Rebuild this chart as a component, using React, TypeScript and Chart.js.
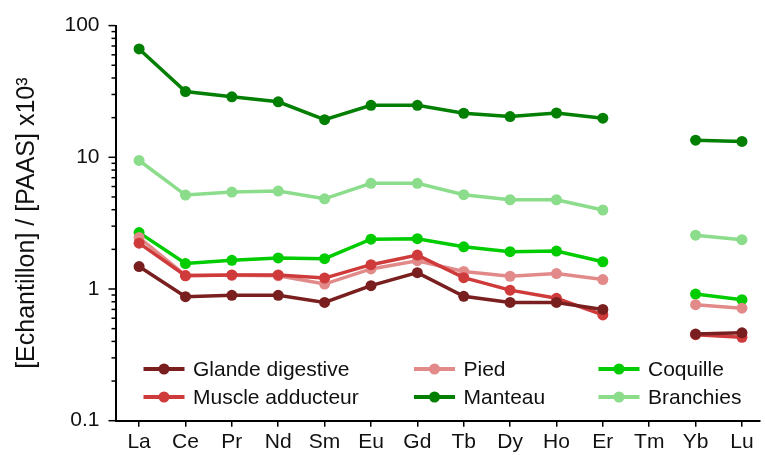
import React, { useEffect, useRef } from "react";
import { Chart, registerables } from "chart.js";

Chart.register(...registerables);

const categories = ["La", "Ce", "Pr", "Nd", "Sm", "Eu", "Gd", "Tb", "Dy", "Ho", "Er", "Tm", "Yb", "Lu"];

const glande = [1.48, 0.875, 0.895, 0.895, 0.79, 1.06, 1.33, 0.88, 0.79, 0.79, 0.7, null, 0.455, 0.465];
const muscle = [2.23, 1.26, 1.28, 1.28, 1.21, 1.53, 1.81, 1.22, 0.98, 0.85, 0.635, null, 0.45, 0.43];
const pied = [2.46, 1.27, 1.27, 1.26, 1.09, 1.42, 1.64, 1.36, 1.25, 1.31, 1.18, null, 0.76, 0.715];
const coquille = [2.68, 1.56, 1.65, 1.72, 1.7, 2.39, 2.41, 2.09, 1.92, 1.94, 1.61, null, 0.915, 0.83];
const manteau = [66.5, 31.6, 28.8, 26.4, 19.3, 24.8, 24.8, 21.6, 20.4, 21.7, 19.8, null, 13.5, 13.2];
const branchies = [9.46, 5.17, 5.44, 5.54, 4.84, 6.34, 6.34, 5.2, 4.76, 4.76, 3.98, null, 2.56, 2.37];

const seriesNames = ["Glande digestive", "Muscle adducteur", "Pied", "Manteau", "Coquille", "Branchies"];
const seriesValues = [glande, muscle, pied, manteau, coquille, branchies];
const seriesColors = ["#7a1f1f", "#cf3a3a", "#e28a8a", "#037f03", "#00cc00", "#8bdc8b"];

const yTickValues = [0.1, 1, 10, 100];
const yTickLabels = ["0.1", "1", "10", "100"];
const yMinorSignificands = [2, 3, 4, 5, 6, 7, 8, 9];
const yTitle = "[Echantillon] / [PAAS] x10\u00B3";

const FONT = "'Liberation Sans', Arial, sans-serif";
const TEXT = "#111111";
const SHIFT = 3;

const minorTicksPlugin = {
  id: "minorTicks",
  afterDraw(chart: any) {
    const y = chart.scales.y;
    const ctx = chart.ctx;
    const left = chart.chartArea.left;
    ctx.save();
    ctx.strokeStyle = "#000";
    ctx.lineWidth = 1.5;
    for (const v of yTickValues) {
      const py = y.getPixelForValue(v);
      ctx.beginPath();
      ctx.moveTo(left - 7, py);
      ctx.lineTo(left, py);
      ctx.stroke();
      if (v < 100) {
        for (const s of yMinorSignificands) {
          const pm = y.getPixelForValue(v * s);
          ctx.beginPath();
          ctx.moveTo(left - 4, pm);
          ctx.lineTo(left, pm);
          ctx.stroke();
        }
      }
    }
    ctx.restore();
  },
};

const legendPlugin = {
  id: "customLegend",
  afterDraw(chart: any) {
    const ctx = chart.ctx;
    const colX = [164, 434.5, 619];
    const rowY = [369 + SHIFT, 397 + SHIFT];
    ctx.save();
    chart.data.datasets.forEach((ds: any, i: number) => {
      const col = Math.floor(i / 2);
      const row = i % 2;
      const mx = colX[col];
      const my = rowY[row];
      ctx.strokeStyle = ds.borderColor;
      ctx.lineWidth = 4;
      ctx.beginPath();
      ctx.moveTo(mx - 20.5, my);
      ctx.lineTo(mx + 20.5, my);
      ctx.stroke();
      ctx.fillStyle = ds.borderColor;
      ctx.beginPath();
      ctx.arc(mx, my, 5.5, 0, Math.PI * 2);
      ctx.fill();
      ctx.fillStyle = TEXT;
      ctx.font = `21px ${FONT}`;
      ctx.textBaseline = "middle";
      ctx.textAlign = "left";
      ctx.fillText(ds.label, mx + 29, my + 1);
    });
    ctx.restore();
  },
};

export default function App() {
  const canvasRef = useRef<HTMLCanvasElement | null>(null);

  useEffect(() => {
    if (!canvasRef.current) return;
    const datasets = seriesNames.map((name, k) => ({
      label: name,
      data: categories.map((_, i) => ({ x: i, y: seriesValues[k][i] })),
      borderColor: seriesColors[k],
      backgroundColor: seriesColors[k],
      borderWidth: 3.5,
      pointRadius: 5.5,
      pointBorderWidth: 0,
      pointHoverRadius: 5.5,
      spanGaps: false,
      tension: 0,
    }));

    const chart = new Chart(canvasRef.current, {
      type: "line",
      data: { datasets },
      plugins: [minorTicksPlugin, legendPlugin],
      options: {
        animation: false,
        responsive: false,
        devicePixelRatio: 1,
        layout: { padding: { top: 12, left: 0, right: 0, bottom: 0 } },
        plugins: {
          legend: { display: false },
          tooltip: { enabled: false },
          title: { display: false },
        },
        scales: {
          x: {
            type: "linear",
            min: -0.509,
            max: 13.378,
            afterFit: (scale: any) => {
              scale.height = 34.3;
            },
            afterBuildTicks: (scale: any) => {
              scale.ticks = categories.map((_, i) => ({ value: i }));
            },
            ticks: {
              autoSkip: false,
              maxRotation: 0,
              includeBounds: false,
              padding: 3,
              color: TEXT,
              font: { family: FONT, size: 21 },
              callback: (v: any) => categories[v] ?? "",
            },
            grid: {
              drawOnChartArea: false,
              drawTicks: true,
              tickLength: 6,
              color: "#000",
              lineWidth: 1.5,
            },
            border: { display: true, color: "#000", width: 2 },
          },
          y: {
            type: "logarithmic",
            min: 0.1,
            max: 100,
            afterFit: (scale: any) => {
              scale.width = 115.5;
            },
            afterBuildTicks: (scale: any) => {
              scale.ticks = yTickValues.map((v) => ({ value: v }));
            },
            ticks: {
              padding: 16,
              color: TEXT,
              font: { family: FONT, size: 21 },
              callback: (v: any) => {
                const idx = yTickValues.findIndex((t) => Math.abs(t - v) < 1e-9);
                return idx >= 0 ? yTickLabels[idx] : "";
              },
            },
            grid: { drawOnChartArea: false, drawTicks: false },
            border: { display: true, color: "#000", width: 2 },
            title: {
              display: true,
              text: yTitle,
              color: TEXT,
              font: { family: FONT, size: 25 },
              padding: { top: 12, bottom: 0 },
            },
          },
        },
      },
    });
    return () => chart.destroy();
  }, []);

  return (
    <div style={{ position: "fixed", left: 0, top: 0, width: 765, height: 455, background: "#fff", overflow: "hidden" }}>
      <canvas
        ref={canvasRef}
        width={765}
        height={455 + SHIFT}
        style={{ display: "block", position: "absolute", left: 0, top: -SHIFT, width: 765, height: 455 + SHIFT }}
      />
    </div>
  );
}
